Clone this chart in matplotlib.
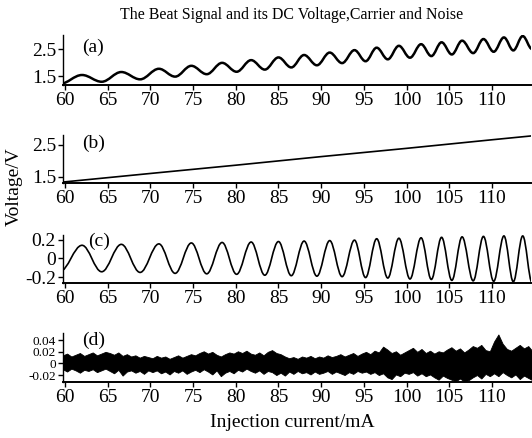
import numpy as np
import matplotlib
matplotlib.use("Agg")
import matplotlib.pyplot as plt
from matplotlib.path import Path
from matplotlib.patches import PathPatch

plt.rcParams['font.family'] = ['Liberation Serif', 'DejaVu Serif']
plt.rcParams['axes.unicode_minus'] = False

# extrema positions (mA) shared by the beat signal (a) and carrier (c)
trough_x = [59.4, 64.3, 68.8, 72.9, 76.6, 80.1, 83.4, 86.5, 89.5, 92.45, 95.2,
            97.8, 100.4, 102.9, 105.3, 107.8, 110.2, 112.5, 114.7]
peak_x = [62.0, 66.6, 71.0, 74.8, 78.4, 81.8, 85.0, 88.0, 91.0, 93.9, 96.5,
          99.1, 101.7, 104.1, 106.5, 109.0, 111.4, 113.6]

# (a) beat signal
a_trough_v = [1.21, 1.29, 1.38, 1.48, 1.57, 1.66, 1.74, 1.82, 1.90, 1.98, 2.05,
              2.12, 2.18, 2.24, 2.30, 2.35, 2.40, 2.45, 2.50]
a_peak_v = [1.54, 1.65, 1.77, 1.88, 1.99, 2.09, 2.19, 2.28, 2.37, 2.46, 2.55,
            2.62, 2.68, 2.75, 2.81, 2.87, 2.93, 2.98]

# (b) DC voltage
b_x = [59.77, 70, 80, 90, 100, 110, 114.57]
b_v = [1.33, 1.60, 1.86, 2.13, 2.39, 2.66, 2.78]

# (c) carrier
c_trough_v = [-0.14, -0.143, -0.15, -0.16, -0.165, -0.17, -0.18, -0.185, -0.19,
              -0.195, -0.205, -0.21, -0.22, -0.225, -0.235, -0.24, -0.245, -0.25, -0.26]
c_peak_v = [0.14, 0.15, 0.155, 0.165, 0.17, 0.175, 0.18, 0.185, 0.19, 0.195,
            0.21, 0.215, 0.22, 0.225, 0.23, 0.235, 0.24, 0.24]

# (d) noise band, upper / lower envelope (x1e-3 V) every 0.5 mA from 59.75
noise_x = np.arange(59.75, 114.8, 0.5)
noise_hi = [14, 17, 12, 15, 18, 13, 16, 19, 14, 17, 20,
            18, 15, 19, 13, 16, 12, 14, 10, 13, 11,
            9, 13, 10, 12, 8, 11, 14, 10, 13, 16,
            14, 18, 21, 17, 20, 15, 12, 16, 19, 17,
            21, 18, 22, 17, 15, 19, 14, 20, 23, 18,
            16, 12, 9, 11, 8, 12, 10, 13, 9, 12,
            10, 14, 11, 13, 16, 12, 15, 18, 13, 17,
            20, 16, 22, 19, 29, 24, 18, 21, 15, 19,
            23, 27, 20, 25, 18, 22, 17, 21, 19, 24,
            28, 22, 26, 19, 24, 30, 27, 32, 23, 21,
            38, 50, 34, 25, 22, 27, 32, 26, 30, 21]
noise_lo = [-10, -14, -9, -12, -16, -11, -13, -10, -15, -12, -9,
            -13, -17, -11, -21, -14, -12, -16, -13, -18, -12,
            -15, -12, -17, -14, -19, -13, -16, -12, -18, -14,
            -11, -15, -10, -14, -19, -12, -22, -16, -13, -17,
            -11, -14, -9, -13, -16, -12, -18, -13, -15, -20,
            -16, -21, -14, -18, -13, -17, -15, -19, -14, -18,
            -16, -13, -18, -14, -17, -20, -15, -18, -13, -16,
            -14, -18, -15, -20, -17, -24, -27, -19, -22, -16,
            -18, -15, -21, -17, -22, -19, -24, -28, -21, -25,
            -28, -31, -26, -31, -29, -24, -20, -26, -18, -22,
            -17, -22, -15, -20, -24, -19, -27, -21, -25, -29]

x_ticks = [60, 65, 70, 75, 80, 85, 90, 95, 100, 105, 110]


def wave_path(troughs_x, troughs_v, peaks_x, peaks_v):
    # alternate trough / peak and join them with smooth cubic segments
    xs, ys = [], []
    for i in range(len(peaks_x)):
        xs += [troughs_x[i], peaks_x[i]]
        ys += [troughs_v[i], peaks_v[i]]
    xs.append(troughs_x[-1])
    ys.append(troughs_v[-1])
    verts = [(xs[0], ys[0])]
    codes = [Path.MOVETO]
    for i in range(len(xs) - 1):
        d = xs[i + 1] - xs[i]
        verts += [(xs[i] + 0.364 * d, ys[i]), (xs[i + 1] - 0.364 * d, ys[i + 1]),
                  (xs[i + 1], ys[i + 1])]
        codes += [Path.CURVE4] * 3
    return Path(verts, codes)


fig = plt.figure(figsize=(5.32, 4.38), dpi=100)
left, width = 63 / 532, 468 / 532
boxes = [(85, 50), (183, 48), (282.7, 47.7), (381.7, 48.4)]
axes = [fig.add_axes([left, 1 - b / 438, width, h / 438]) for b, h in boxes]

for ax in axes:
    ax.set_xlim(59.77, 114.57)
    ax.set_xticks(x_ticks)
    ax.spines['top'].set_visible(False)
    ax.spines['right'].set_visible(False)
    ax.spines['left'].set_linewidth(1.0)
    ax.spines['bottom'].set_linewidth(1.4)
    ax.tick_params(labelsize=14, length=3.5, width=1.0, pad=1.5, direction='out')

ax = axes[0]
ax.add_patch(PathPatch(wave_path(trough_x, a_trough_v, peak_x, a_peak_v),
                       fill=False, lw=1.8, ec='black'))
ax.set_ylim(1.17, 3.02)
ax.set_yticks([1.5, 2.5])
ax.set_yticklabels(['1.5', '2.5'])
ax.text(0.04, 0.76, '(a)', transform=ax.transAxes, fontsize=14, va='center')

ax = axes[1]
ax.plot(b_x, b_v, color='black', lw=1.2)
ax.set_ylim(1.30, 2.81)
ax.set_yticks([1.5, 2.5])
ax.set_yticklabels(['1.5', '2.5'])
ax.text(0.04, 0.83, '(b)', transform=ax.transAxes, fontsize=14, va='center')

ax = axes[2]
ax.add_patch(PathPatch(wave_path(trough_x, c_trough_v, peak_x, c_peak_v),
                       fill=False, lw=1.2, ec='black'))
ax.set_ylim(-0.26, 0.25)
ax.set_yticks([-0.2, 0, 0.2])
ax.set_yticklabels(['-0.2', '0', '0.2'])
ax.text(0.053, 0.86, '(c)', transform=ax.transAxes, fontsize=14, va='center')

ax = axes[3]
ax.fill_between(noise_x, np.array(noise_lo) / 1000, np.array(noise_hi) / 1000,
                color='black', lw=0.6, edgecolor='black')
ax.set_ylim(-0.0315, 0.052)
ax.set_yticks([-0.02, 0, 0.02, 0.04])
ax.set_yticklabels(['-0.02', '0', '0.02', '0.04'])
# ticks are only ~12 px apart here, so the labels have to be smaller
ax.tick_params(axis='y', labelsize=9.5)
ax.text(0.04, 0.86, '(d)', transform=ax.transAxes, fontsize=14, va='center')

fig.text(0.549, 0.966, 'The Beat Signal and its DC Voltage,Carrier and Noise',
         ha='center', va='center', fontsize=11.4)
fig.text(0.027, 0.573, 'Voltage/V', rotation=90, ha='center', va='center', fontsize=14)
fig.text(0.549, 0.0365, 'Injection current/mA', ha='center', va='center', fontsize=14)

fig.savefig('out.png', dpi=100)
